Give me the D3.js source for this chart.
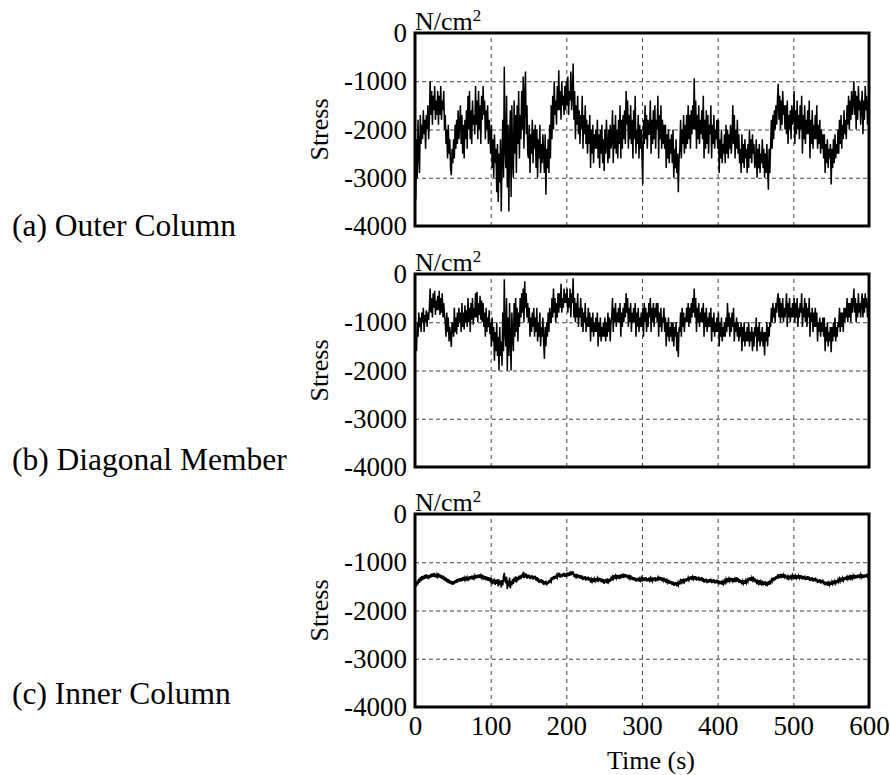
<!DOCTYPE html>
<html>
<head>
<meta charset="utf-8">
<script src="https://cdn.jsdelivr.net/npm/d3@7/dist/d3.min.js"></script>
<style>
  body { margin: 0; background: #fff; }
  svg text { font-family: "Liberation Serif", "Times New Roman", serif; fill: #000; }
</style>
</head>
<body>
<svg id="chart" width="890" height="775"></svg>
<script>
// Sampling interval of the recorded stress histories (s)
const timeStep = 1;

const xTicks = [0, 100, 200, 300, 400, 500, 600];
const yTicks = [0, -1000, -2000, -3000, -4000];
const panelTitles = ["(a) Outer Column", "(b) Diagonal Member", "(c) Inner Column"];
const unitLabel = "N/cm";
const yLabel = "Stress";
const xLabel = "Time (s)";

// Stress histories, N/cm², one value per second from 0 to 600 s (10 s per row)
const outerColumn = [
  -2600, -3450, -2200, -3000, -1800, -2500, -2900, -1700, -2300, -1900,
  -2200, -1600, -2100, -1800, -2400, -1700, -2000, -1500, -2200, -1800,
  -1000, -1700, -1200, -1900, -1300, -1600, -1100, -1800, -1400, -1700,
  -1200, -1900, -1300, -1700, -1100, -1800, -1400, -1600, -1200, -2000,
  -1700, -2300, -2000, -2600, -1900, -2500, -2200, -2800, -2950, -2400,
  -2700, -2200, -2600, -1900, -2400, -1800, -2300, -1600, -2200, -1900,
  -1500, -2300, -1700, -2500, -1900, -2600, -1800, -2200, -1600, -2400,
  -1300, -2000, -1200, -2200, -1600, -2300, -1400, -1900, -1700, -2100,
  -1100, -1900, -1400, -2200, -1200, -2000, -1500, -2300, -1300, -1800,
  -1100, -1700, -1400, -2200, -1600, -2000, -1500, -2300, -1800, -2100,
  -2500, -1900, -2800, -2200, -3000, -2100, -2700, -2400, -3300, -2300,
  -3500, -2500, -3100, -2200, -3700, -2600, -1800, -3000, -700, -2400,
  -2800, -1300, -3200, -1900, -3700, -2200, -1600, -3400, -1500, -2700,
  -3000, -1400, -2500, -1700, -2900, -1500, -2300, -1200, -2600, -1700,
  -2200, -1200, -2000, -900, -2400, -1300, -800, -2100, -1500, -2500,
  -2600, -1900, -2900, -2100, -2500, -1800, -2700, -2000, -2400, -1900,
  -2800, -2000, -3000, -2200, -2600, -1900, -2900, -2300, -2700, -2100,
  -2500, -2900, -2100, -3350, -2400, -2800, -2200, -2900, -1900, -2600,
  -1500, -2200, -1300, -2000, -1000, -1700, -1400, -1900, -1100, -1600,
  -770, -1600, -1200, -1800, -1000, -1500, -1300, -1700, -1100, -1600,
  -1000, -1500, -900, -1700, -1200, -1400, -800, -1600, -1300, -630,
  -1800, -1200, -2200, -1500, -1900, -1300, -2100, -1600, -2300, -1700,
  -2000, -1300, -2400, -1700, -2100, -1500, -2300, -1800, -2500, -1900,
  -2300, -1700, -2800, -2000, -2500, -1900, -2700, -2100, -2400, -2000,
  -2400, -1800, -2600, -2100, -2800, -2000, -2500, -1900, -2700, -2200,
  -2860, -2000, -2500, -1800, -2300, -2700, -2000, -2600, -1900, -2400,
  -2200, -1600, -2700, -1900, -2400, -1700, -2500, -2000, -2600, -1800,
  -2300, -1500, -2600, -1800, -2400, -1700, -2200, -1600, -2300, -1200,
  -1900, -1400, -2400, -1700, -2200, -1500, -2300, -1800, -2600, -1600,
  -2200, -1300, -2500, -2000, -2300, -1700, -2600, -1900, -2400, -2000,
  -2600, -3140, -1800, -2300, -1500, -2200, -1700, -2400, -1800, -2100,
  -2100, -1400, -2500, -1800, -2300, -1600, -2200, -1500, -2400, -1800,
  -2000, -1300, -2600, -1700, -2200, -1500, -2400, -1800, -2300, -1900,
  -2400, -1900, -2800, -2100, -2600, -2000, -2700, -2200, -2500, -2100,
  -2700, -2000, -3000, -2400, -2800, -2200, -2900, -2500, -3300, -2600,
  -2400, -1800, -2600, -2000, -2300, -1700, -2500, -1900, -2400, -1700,
  -2300, -1500, -2200, -1700, -2400, -1600, -2100, -1500, -2000, -940,
  -2000, -1400, -2400, -1700, -2200, -1500, -2300, -1800, -2100, -1600,
  -2200, -1300, -2600, -1800, -2400, -1600, -2300, -1700, -2500, -1900,
  -2100, -1500, -2600, -1900, -2300, -1700, -2400, -2000, -2200, -1800,
  -2400, -1800, -2900, -2200, -2600, -2000, -2700, -2300, -2500, -2100,
  -2700, -1900, -2500, -2000, -2600, -2100, -2400, -1900, -2500, -2200,
  -1500, -2300, -1700, -2600, -2000, -2400, -1800, -2500, -2100, -2700,
  -2400, -2900, -2100, -2700, -2300, -2800, -2200, -2600, -2400, -2900,
  -2300, -2800, -2000, -2600, -2200, -2700, -2100, -2500, -2300, -2800,
  -2700, -2200, -3000, -2400, -2800, -2300, -2900, -2500, -2700, -2200,
  -2800, -2400, -3000, -2500, -2900, -2300, -2800, -3250, -2400, -2900,
  -2300, -1800, -2400, -1700, -2200, -1600, -2000, -1500, -1900, -1400,
  -1050, -1800, -1300, -2000, -1400, -1900, -1200, -1700, -1500, -2000,
  -1500, -2100, -1400, -2300, -1700, -2000, -1600, -2200, -1500, -1900,
  -1800, -1200, -2300, -1600, -2100, -1400, -2000, -1700, -2200, -1500,
  -2000, -1300, -2500, -1700, -2200, -1500, -2300, -1800, -2100, -1600,
  -2100, -1400, -2600, -1800, -2300, -1600, -2400, -1900, -2200, -1700,
  -2200, -1500, -2400, -1900, -2300, -1800, -2500, -2000, -2400, -2100,
  -2600, -2100, -2900, -2300, -2700, -2200, -2800, -2400, -2600, -2300,
  -3140, -2400, -2800, -2200, -2700, -2100, -2600, -2300, -2500, -2000,
  -2500, -1800, -2300, -1700, -2400, -1900, -2200, -1600, -2100, -1800,
  -2200, -1500, -1900, -1300, -2000, -1400, -1800, -1200, -1700, -1400,
  -1000, -1700, -1200, -2000, -1300, -1800, -1100, -1600, -1400, -1900,
  -1500, -1200, -2100, -1400, -1800, -1100, -1600, -1300, -1900, -1400,
  -1700
];

const diagonalMember = [
  -1800, -1300, -1600, -1000, -1300, -800, -1100, -900, -1200, -800,
  -1000, -700, -1200, -850, -1000, -750, -1100, -800, -950, -700,
  -300, -800, -500, -900, -400, -700, -350, -850, -550, -750,
  -450, -750, -350, -850, -500, -800, -400, -900, -600, -850,
  -1000, -1300, -800, -1200, -900, -1400, -1100, -1300, -1510, -1000,
  -1100, -1300, -700, -1200, -900, -1250, -800, -1100, -700, -1000,
  -800, -1200, -600, -1100, -800, -1150, -650, -1000, -750, -1100,
  -500, -1000, -700, -1200, -600, -950, -500, -1050, -700, -900,
  -400, -900, -370, -1000, -600, -850, -450, -950, -550, -1000,
  -600, -1100, -800, -1300, -700, -1200, -900, -1100, -750, -1250,
  -1000, -1500, -900, -1400, -1100, -1800, -1200, -1600, -1000, -1700,
  -1300, -2000, -1100, -1700, -1400, -1900, -800, -1600, -110, -1200,
  -1500, -500, -2000, -900, -1700, -600, -1400, -2000, -800, -1300,
  -1600, -600, -1300, -500, -1200, -700, -1400, -800, -1100, -500,
  -900, -400, -800, -300, -1000, -150, -700, -400, -900, -600,
  -1000, -700, -1300, -900, -1200, -800, -1100, -700, -1300, -900,
  -1200, -700, -1400, -1000, -1300, -800, -1500, -1100, -1300, -900,
  -1400, -1760, -1100, -1500, -1000, -1300, -800, -1200, -700, -1000,
  -1000, -500, -900, -300, -800, -500, -1000, -600, -900, -400,
  -800, -400, -700, -200, -800, -500, -700, -300, -600, -400,
  -600, -300, -800, -500, -700, -300, -900, -400, -600, -90,
  -900, -500, -1000, -600, -900, -400, -1100, -700, -900, -500,
  -1100, -700, -1200, -800, -1000, -600, -1200, -900, -1100, -700,
  -1100, -800, -1400, -900, -1200, -800, -1300, -1000, -1200, -900,
  -1200, -800, -1500, -1000, -1300, -900, -1400, -1100, -1300, -1000,
  -1300, -900, -1400, -1000, -1300, -800, -1200, -900, -1400, -1000,
  -900, -500, -1200, -700, -1000, -600, -1100, -800, -1000, -700,
  -1000, -600, -1300, -800, -1100, -700, -1000, -600, -900, -400,
  -800, -500, -1100, -700, -1000, -600, -1200, -800, -1000, -700,
  -1000, -600, -1300, -800, -1100, -700, -1200, -900, -1100, -800,
  -1100, -700, -1300, -600, -1000, -700, -1200, -800, -1100, -600,
  -900, -500, -1200, -700, -1000, -600, -1100, -700, -900, -600,
  -1000, -600, -1300, -800, -1100, -700, -1200, -900, -1000, -700,
  -1200, -900, -1500, -1000, -1300, -900, -1400, -1100, -1300, -1000,
  -1400, -1000, -1500, -1100, -1300, -1000, -1600, -1200, -1720, -1100,
  -1200, -800, -1300, -700, -1100, -800, -1200, -900, -1000, -700,
  -1000, -600, -1100, -700, -1000, -600, -900, -500, -800, -300,
  -900, -500, -1200, -700, -1000, -600, -1100, -800, -1000, -700,
  -1000, -600, -1300, -800, -1100, -700, -1200, -900, -1100, -800,
  -1100, -700, -1400, -900, -1200, -800, -1300, -1000, -1200, -900,
  -1200, -800, -1500, -1000, -1300, -900, -1400, -1100, -1300, -1000,
  -1300, -900, -1200, -600, -1100, -800, -1300, -900, -1200, -800,
  -1100, -700, -1400, -1000, -1200, -900, -1300, -1000, -1400, -1100,
  -1300, -1000, -1600, -1100, -1400, -1000, -1500, -1200, -1400, -1100,
  -1400, -1000, -1500, -1200, -1400, -1100, -1600, -1200, -1500, -1100,
  -1300, -900, -1600, -1100, -1400, -1000, -1500, -1200, -1400, -1100,
  -1500, -1200, -1690, -1200, -1400, -1000, -1500, -1100, -1300, -1000,
  -1100, -700, -1000, -600, -900, -700, -1000, -600, -800, -500,
  -400, -900, -500, -1000, -600, -900, -500, -1000, -700, -900,
  -700, -400, -1100, -600, -900, -500, -1000, -700, -900, -600,
  -900, -500, -1000, -600, -900, -500, -1100, -700, -900, -600,
  -800, -400, -1100, -700, -900, -500, -1000, -600, -1100, -700,
  -900, -500, -1300, -800, -1000, -700, -1200, -800, -1100, -700,
  -1100, -800, -1400, -1000, -1200, -900, -1300, -1000, -1200, -900,
  -1300, -900, -1600, -1100, -1400, -1000, -1500, -1200, -1400, -1100,
  -1620, -1100, -1400, -1000, -1300, -900, -1400, -1100, -1300, -1000,
  -1100, -700, -1200, -800, -1100, -800, -1200, -700, -1000, -700,
  -900, -500, -1000, -600, -900, -600, -1000, -500, -800, -600,
  -300, -800, -500, -1000, -600, -900, -400, -800, -600, -900,
  -600, -400, -900, -500, -800, -400, -700, -500, -900, -600,
  -700
];

const innerColumn = [
  -1550, -1420, -1500, -1380, -1460, -1340, -1420, -1310, -1390, -1290,
  -1370, -1280, -1350, -1260, -1340, -1250, -1330, -1270, -1350, -1260,
  -1320, -1240, -1310, -1230, -1300, -1220, -1310, -1240, -1320, -1250,
  -1300, -1230, -1320, -1250, -1330, -1270, -1350, -1280, -1370, -1300,
  -1390, -1320, -1410, -1340, -1430, -1360, -1440, -1380, -1460, -1390,
  -1470, -1390, -1450, -1370, -1430, -1350, -1420, -1340, -1400, -1330,
  -1400, -1330, -1390, -1310, -1380, -1320, -1370, -1300, -1380, -1310,
  -1360, -1300, -1370, -1290, -1350, -1280, -1360, -1300, -1340, -1280,
  -1340, -1270, -1330, -1260, -1320, -1250, -1330, -1270, -1320, -1260,
  -1330, -1280, -1360, -1290, -1370, -1300, -1380, -1310, -1390, -1320,
  -1420, -1330, -1460, -1360, -1440, -1340, -1470, -1370, -1450, -1350,
  -1500, -1360, -1470, -1380, -1520, -1370, -1480, -1300, -1220, -1400,
  -1420, -1300, -1560, -1380, -1500, -1320, -1540, -1390, -1480, -1350,
  -1450, -1320, -1400, -1290, -1420, -1310, -1380, -1280, -1360, -1270,
  -1350, -1250, -1320, -1200, -1330, -1260, -1310, -1230, -1340, -1260,
  -1330, -1260, -1350, -1280, -1340, -1270, -1360, -1290, -1350, -1280,
  -1380, -1310, -1400, -1330, -1430, -1360, -1420, -1350, -1440, -1370,
  -1470, -1390, -1460, -1380, -1480, -1400, -1450, -1370, -1430, -1360,
  -1400, -1310, -1370, -1290, -1350, -1280, -1340, -1270, -1320, -1250,
  -1300, -1220, -1320, -1250, -1310, -1230, -1290, -1220, -1300, -1230,
  -1300, -1240, -1290, -1210, -1280, -1220, -1270, -1190, -1260, -1190,
  -1300, -1240, -1330, -1270, -1310, -1250, -1320, -1260, -1340, -1270,
  -1350, -1280, -1370, -1300, -1360, -1290, -1380, -1310, -1370, -1300,
  -1380, -1320, -1420, -1350, -1400, -1330, -1410, -1340, -1390, -1330,
  -1400, -1330, -1380, -1320, -1390, -1330, -1410, -1340, -1420, -1350,
  -1450, -1360, -1420, -1340, -1440, -1370, -1410, -1340, -1400, -1330,
  -1380, -1300, -1340, -1270, -1350, -1280, -1330, -1260, -1340, -1270,
  -1350, -1280, -1310, -1250, -1320, -1260, -1300, -1240, -1310, -1250,
  -1320, -1260, -1350, -1290, -1340, -1270, -1360, -1300, -1370, -1310,
  -1380, -1320, -1400, -1330, -1390, -1320, -1400, -1340, -1380, -1320,
  -1370, -1310, -1390, -1320, -1380, -1310, -1400, -1330, -1390, -1320,
  -1380, -1330, -1400, -1340, -1390, -1320, -1380, -1310, -1400, -1340,
  -1360, -1310, -1380, -1300, -1370, -1310, -1390, -1320, -1380, -1320,
  -1400, -1340, -1430, -1370, -1420, -1360, -1440, -1380, -1450, -1390,
  -1470, -1400, -1490, -1420, -1480, -1410, -1500, -1430, -1480, -1410,
  -1460, -1380, -1420, -1350, -1440, -1370, -1410, -1340, -1400, -1330,
  -1390, -1320, -1370, -1300, -1360, -1290, -1370, -1300, -1350, -1290,
  -1360, -1290, -1380, -1310, -1370, -1300, -1390, -1320, -1380, -1310,
  -1400, -1330, -1420, -1350, -1410, -1340, -1430, -1360, -1420, -1350,
  -1410, -1340, -1430, -1360, -1420, -1350, -1440, -1370, -1430, -1360,
  -1440, -1370, -1460, -1390, -1450, -1380, -1470, -1400, -1450, -1380,
  -1420, -1350, -1400, -1330, -1410, -1340, -1390, -1320, -1400, -1330,
  -1390, -1330, -1410, -1340, -1380, -1310, -1400, -1330, -1420, -1350,
  -1430, -1370, -1460, -1390, -1440, -1370, -1450, -1380, -1430, -1360,
  -1400, -1320, -1380, -1310, -1390, -1320, -1370, -1300, -1400, -1330,
  -1420, -1360, -1460, -1390, -1440, -1370, -1470, -1400, -1450, -1380,
  -1480, -1400, -1470, -1390, -1490, -1410, -1460, -1390, -1470, -1400,
  -1430, -1360, -1400, -1320, -1390, -1310, -1370, -1290, -1350, -1280,
  -1310, -1250, -1330, -1270, -1300, -1240, -1320, -1260, -1310, -1250,
  -1330, -1270, -1360, -1290, -1340, -1280, -1350, -1290, -1340, -1270,
  -1320, -1260, -1350, -1280, -1330, -1270, -1340, -1280, -1330, -1270,
  -1340, -1270, -1360, -1290, -1350, -1280, -1370, -1300, -1360, -1290,
  -1370, -1300, -1390, -1320, -1380, -1310, -1400, -1330, -1390, -1320,
  -1400, -1340, -1430, -1360, -1420, -1350, -1440, -1370, -1430, -1360,
  -1460, -1390, -1480, -1410, -1470, -1400, -1490, -1420, -1470, -1400,
  -1470, -1400, -1450, -1380, -1460, -1390, -1440, -1370, -1430, -1360,
  -1410, -1340, -1390, -1320, -1400, -1330, -1380, -1310, -1370, -1300,
  -1370, -1300, -1350, -1280, -1360, -1290, -1340, -1270, -1330, -1270,
  -1320, -1260, -1340, -1270, -1330, -1260, -1320, -1250, -1310, -1250,
  -1310, -1250, -1330, -1260, -1320, -1250, -1310, -1240, -1300, -1250,
  -1300
];

const seriesList = [outerColumn, diagonalMember, innerColumn];
const lineWidths = [1.5, 1.5, 1.6];

// ---- layout ----
const svg = d3.select("#chart");
const plotLeft = 415, plotRight = 869;
const panelTops = [33, 274, 514];
const panelHeight = 193;
const titleBaselines = [236, 470, 704];
const serif = '"Liberation Serif", "Times New Roman", serif';
const plainNumber = d => String(d);

const x = d3.scaleLinear().domain([0, 600]).range([plotLeft, plotRight]);

seriesList.forEach((values, i) => {
  const top = panelTops[i];
  const y = d3.scaleLinear().domain([-4000, 0]).range([top + panelHeight, top]);
  const g = svg.append("g");

  // dashed grid
  g.append("g")
    .attr("transform", `translate(0,${top + panelHeight})`)
    .call(d3.axisBottom(x).tickValues(xTicks.slice(1, -1)).tickSize(-panelHeight).tickFormat(""))
    .call(a => a.select(".domain").remove())
    .call(a => a.selectAll("line").attr("stroke", "#444").attr("stroke-width", 1).attr("stroke-dasharray", "4,4"));
  g.append("g")
    .attr("transform", `translate(${plotLeft},0)`)
    .call(d3.axisLeft(y).tickValues(yTicks.slice(1, -1)).tickSize(-(plotRight - plotLeft)).tickFormat(""))
    .call(a => a.select(".domain").remove())
    .call(a => a.selectAll("line").attr("stroke", "#444").attr("stroke-width", 1).attr("stroke-dasharray", "4,3"));

  // y tick labels
  g.append("g")
    .attr("transform", `translate(${plotLeft},0)`)
    .call(d3.axisLeft(y).tickValues(yTicks).tickSize(0).tickPadding(8).tickFormat(plainNumber))
    .call(a => a.select(".domain").remove())
    .call(a => a.selectAll("text").attr("font-size", 27).attr("fill", "#000").style("font-family", serif));

  // stress history
  const line = d3.line().x((d, k) => x(k * timeStep)).y(d => y(d));
  const clipId = "clip" + i;
  g.append("clipPath").attr("id", clipId)
    .append("rect").attr("x", plotLeft).attr("y", top).attr("width", plotRight - plotLeft).attr("height", panelHeight);
  g.append("path")
    .datum(values)
    .attr("clip-path", `url(#${clipId})`)
    .attr("fill", "none")
    .attr("stroke", "#000")
    .attr("stroke-width", lineWidths[i])
    .attr("stroke-linejoin", "miter")
    .attr("d", line);

  // frame
  g.append("rect")
    .attr("x", plotLeft).attr("y", top)
    .attr("width", plotRight - plotLeft).attr("height", panelHeight)
    .attr("fill", "none").attr("stroke", "#000").attr("stroke-width", 3);

  // unit
  const u = g.append("text").attr("x", plotLeft).attr("y", top - 3).attr("font-size", 26);
  u.append("tspan").text(unitLabel);
  u.append("tspan").attr("font-size", 17).attr("dy", -9).text("2");

  // y label
  g.append("text")
    .attr("transform", `translate(328,${top + panelHeight / 2}) rotate(-90)`)
    .attr("text-anchor", "middle")
    .attr("font-size", 26)
    .text(yLabel);

  // panel title
  g.append("text")
    .attr("x", 12).attr("y", titleBaselines[i])
    .attr("font-size", 31.5)
    .text(panelTitles[i]);

  // x tick labels under the last panel
  if (i === seriesList.length - 1) {
    g.append("g")
      .attr("transform", `translate(0,${top + panelHeight})`)
      .call(d3.axisBottom(x).tickValues(xTicks).tickSize(0).tickPadding(9).tickFormat(plainNumber))
      .call(a => a.select(".domain").remove())
      .call(a => a.selectAll("text").attr("font-size", 27).attr("fill", "#000").style("font-family", serif));
    g.append("text")
      .attr("x", 651).attr("y", 769)
      .attr("text-anchor", "middle")
      .attr("font-size", 26)
      .text(xLabel);
  }
});
</script>
</body>
</html>
